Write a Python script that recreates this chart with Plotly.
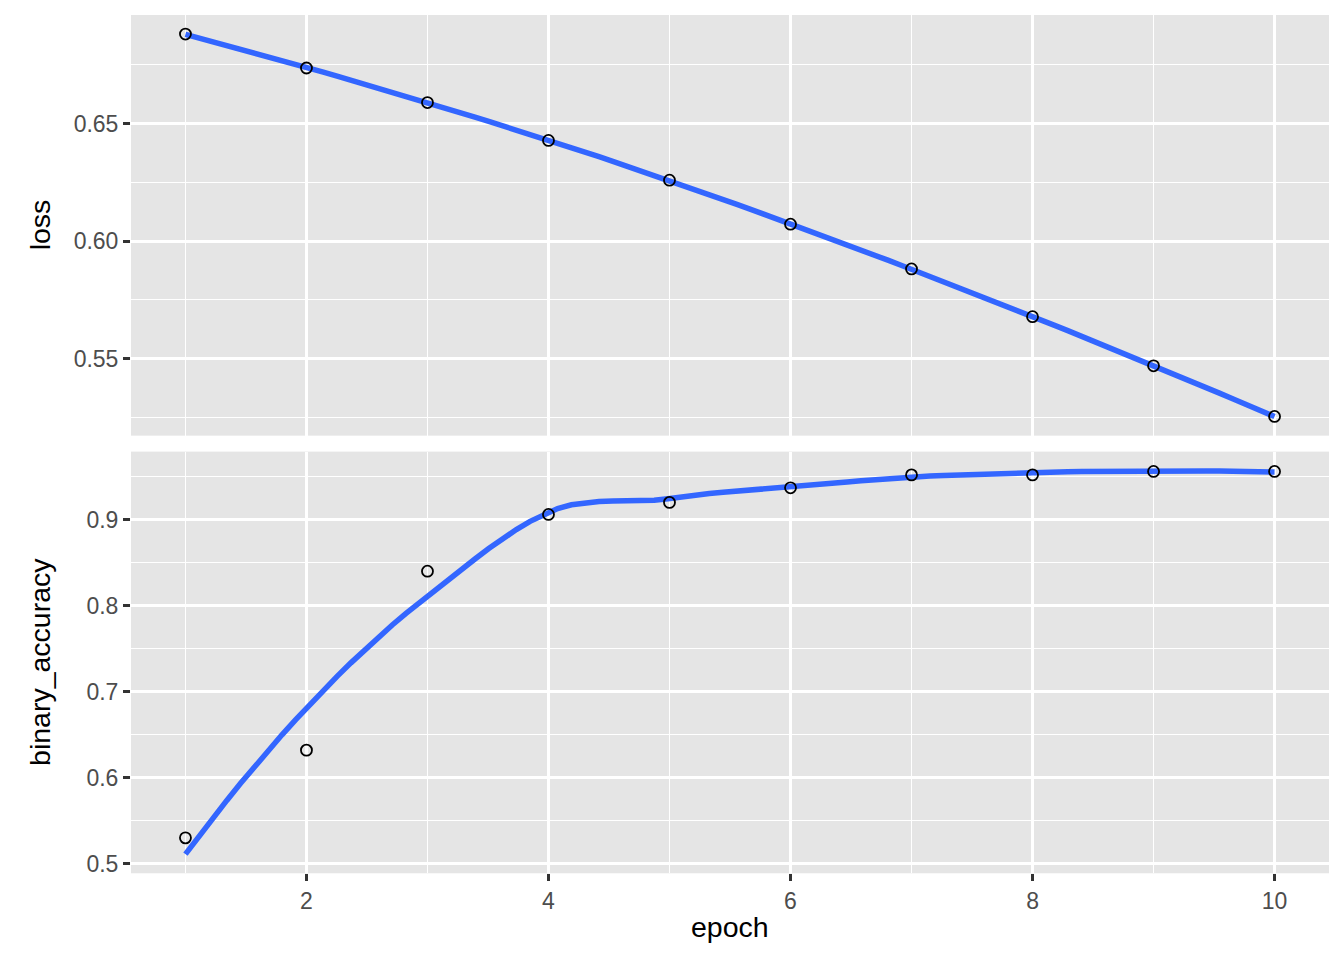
import numpy as np
import plotly.graph_objects as go

epoch = [1, 2, 3, 4, 5, 6, 7, 8, 9, 10]
loss = [0.688, 0.6736, 0.6589, 0.6428, 0.6259, 0.6072, 0.5882, 0.5679, 0.5470, 0.5255]
binary_accuracy = [0.530, 0.632, 0.840, 0.906, 0.920, 0.937, 0.952, 0.952, 0.956, 0.956]
loss_ticks = [0.55, 0.60, 0.65]
acc_ticks = [0.5, 0.6, 0.7, 0.8, 0.9]
epoch_ticks = [2, 4, 6, 8, 10]


def local_fit(x, y, x0, span=0.75):
    n = len(x); q = int(np.floor(span * n))
    d = np.abs(x - x0)
    h = np.sort(d)[q - 1]
    w = np.clip(1 - (d / h) ** 3, 0, None) ** 3
    X = np.vstack([np.ones(n), x - x0, (x - x0) ** 2]).T
    Wm = np.diag(w)
    beta = np.linalg.lstsq(X.T @ Wm @ X, X.T @ Wm @ y, rcond=None)[0]
    return beta[0], beta[1]


def kd_vertices(x, fc):
    xs_ = np.sort(x)
    r = xs_[-1] - xs_[0]
    mu = 0.005 * r
    lo_b, hi_b = xs_[0] - mu, xs_[-1] + mu
    verts = {lo_b, hi_b}

    def split(l, u, a, b):  # 1-based indices, cell bounds
        if (u - l) + 1 <= fc:
            return
        m = (l + u) // 2
        v = xs_[m - 1]
        if v == a or v == b:
            return
        verts.add(v)
        split(l, m, a, v)
        split(m + 1, u, v, b)

    split(1, len(xs_), lo_b, hi_b)
    return np.array(sorted(verts))


def loess(x, y, xs, span=0.75):
    x = np.asarray(x, float); y = np.asarray(y, float)
    fc = max(int(np.floor(len(x) * span * 0.2)), 1)
    V = kd_vertices(x, fc)
    vals = np.array([local_fit(x, y, v, span) for v in V])
    out = []
    for x0 in xs:
        i = np.searchsorted(V, x0) - 1
        i = min(max(i, 0), len(V) - 2)
        a, b = V[i], V[i + 1]
        hlen = b - a
        t = (x0 - a) / hlen
        f0, d0 = vals[i]; f1, d1 = vals[i + 1]
        h00 = 2 * t**3 - 3 * t**2 + 1
        h10 = t**3 - 2 * t**2 + t
        h01 = -2 * t**3 + 3 * t**2
        h11 = t**3 - t**2
        out.append(h00 * f0 + h10 * hlen * d0 + h01 * f1 + h11 * hlen * d1)
    return np.array(out)


xs = np.linspace(min(epoch), max(epoch), 80)
loss_s = loess(epoch, loss, xs)
acc_s = loess(epoch, binary_accuracy, xs)


def rng(*arrs):
    lo = min(np.min(a) for a in arrs); hi = max(np.max(a) for a in arrs)
    d = hi - lo
    return [lo - 0.05 * d, hi + 0.05 * d]


W, H = 1344, 960
OFF = 8  # page body margin
px0, px1 = (131 - OFF) / W, (1329 - OFF) / W
top_dom = [1 - (437 - OFF) / H, 1 - (15 - OFF) / H]
bot_dom = [1 - (876 - OFF) / H, 1 - (453 - OFF) / H]

fig = go.Figure()
blue = "#3366FF"
mk = dict(symbol="circle-open", size=11, color="black", line=dict(width=1.8))
fig.add_trace(go.Scatter(x=xs, y=loss_s, mode="lines", line=dict(color=blue, width=5.5),
                         xaxis="x", yaxis="y", hoverinfo="skip"))
fig.add_trace(go.Scatter(x=epoch, y=loss, mode="markers", marker=mk, xaxis="x", yaxis="y"))
fig.add_trace(go.Scatter(x=xs, y=acc_s, mode="lines", line=dict(color=blue, width=5.5),
                         xaxis="x2", yaxis="y2", hoverinfo="skip"))
fig.add_trace(go.Scatter(x=epoch, y=binary_accuracy, mode="markers", marker=mk, xaxis="x2", yaxis="y2"))

xr = [0.55, 10.45]
tickfont = dict(family="Liberation Sans, Arial, sans-serif", size=23, color="#4D4D4D")
grid = dict(showgrid=True, gridcolor="white", gridwidth=2.8, zeroline=False, showline=False)
minor_x = dict(tickvals=[1, 3, 5, 7, 9], showgrid=True, gridcolor="white", gridwidth=1.4, ticks="")
fig.update_layout(
    width=W, height=H, showlegend=False,
    margin=dict(l=0, r=0, t=0, b=0),
    paper_bgcolor="white", plot_bgcolor="#E5E5E5",
    xaxis=dict(domain=[px0, px1], anchor="y", range=xr, tickmode="array", tickvals=epoch_ticks,
               showticklabels=False, ticks="", minor=minor_x, **grid),
    xaxis2=dict(domain=[px0, px1], anchor="y2", range=xr, tickmode="array", tickvals=epoch_ticks,
                ticks="outside", ticklen=7, tickwidth=2.5, tickcolor="#333333", tickfont=tickfont,
                minor=minor_x, **grid),
    yaxis=dict(domain=top_dom, anchor="x", range=rng(loss, loss_s), tickmode="array",
               tickvals=loss_ticks, ticktext=[f"{v:.2f}" for v in loss_ticks],
               ticks="outside", ticklen=7, tickwidth=2.5, tickcolor="#333333", tickfont=tickfont,
               minor=dict(tickvals=[0.525, 0.575, 0.625, 0.675], showgrid=True, gridcolor="white",
                          gridwidth=1.4, ticks=""), **grid),
    yaxis2=dict(domain=bot_dom, anchor="x2", range=rng(binary_accuracy, acc_s), tickmode="array",
                tickvals=acc_ticks, ticktext=[f"{v:.1f}" for v in acc_ticks],
                ticks="outside", ticklen=7, tickwidth=2.5, tickcolor="#333333", tickfont=tickfont,
                minor=dict(tickvals=[0.55, 0.65, 0.75, 0.85, 0.95], showgrid=True, gridcolor="white",
                           gridwidth=1.4, ticks=""), **grid),
)

titlefont = dict(family="Liberation Sans, Arial, sans-serif", size=28.5, color="black")
fig.add_annotation(text="loss", x=(40 - OFF) / W, y=1 - (226 - OFF) / H, xref="paper", yref="paper",
                   textangle=-90, showarrow=False, font=titlefont, xanchor="center", yanchor="middle")
fig.add_annotation(text="binary_accuracy", x=(40 - OFF) / W, y=1 - (664 - OFF) / H, xref="paper", yref="paper",
                   textangle=-90, showarrow=False, font=titlefont, xanchor="center", yanchor="middle")
fig.add_annotation(text="epoch", x=(730 - OFF) / W, y=1 - (930 - OFF) / H, xref="paper", yref="paper",
                   showarrow=False, font=titlefont, xanchor="center", yanchor="middle")

fig.write_html("out.html")
